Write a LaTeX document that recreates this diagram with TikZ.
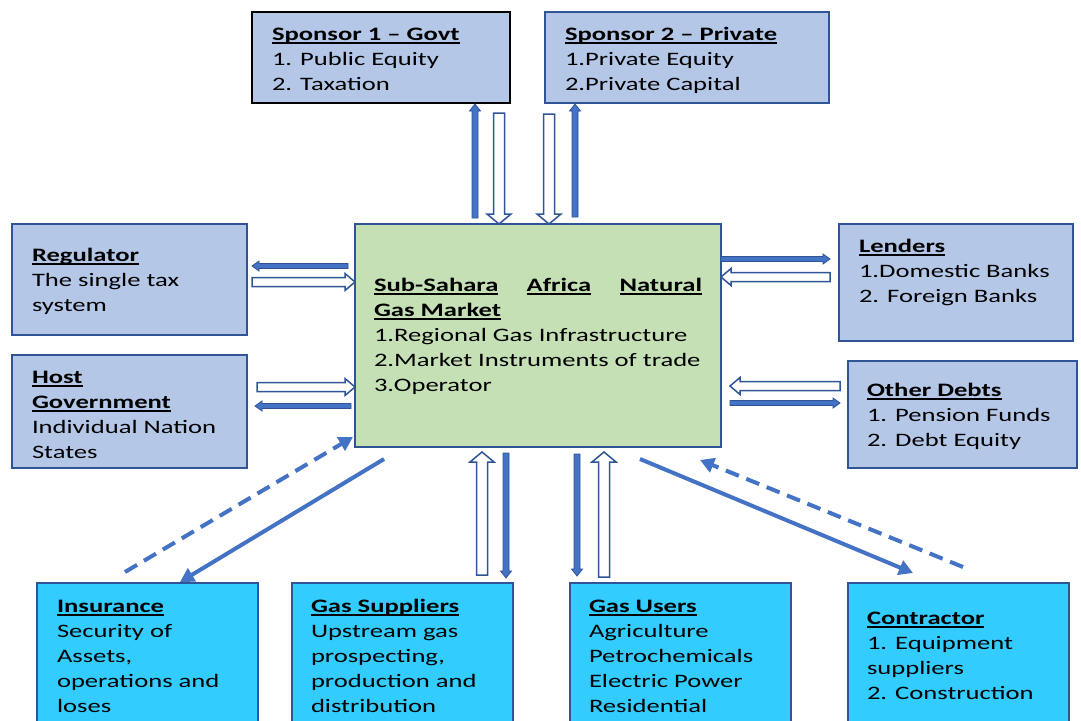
\documentclass[tikz,border=0pt]{standalone}
\usepackage{fontspec}
\setmainfont{Carlito}[FakeStretch=1.4]
\usetikzlibrary{calc,arrows.meta}

\definecolor{boxblue}{HTML}{B4C7E7}
\definecolor{edgeblue}{HTML}{2F5597}
\definecolor{centergreen}{HTML}{C5E0B4}
\definecolor{cyanbox}{HTML}{33CCFF}
\definecolor{arrowblue}{HTML}{4472C4}

% underlined word with a rule just under the baseline
\newcommand\ulw[1]{\leavevmode\setbox0\hbox{#1}\rlap{\rule[-3.6pt]{\wd0}{1.6pt}}\box0}
\newcommand\hd[1]{\ulw{\textbf{#1}}}
% block of text lines, anchored at the first baseline
\newcommand\lines[2]{\parbox[t]{#1}{\fontsize{19pt}{25pt}\selectfont\raggedright\parindent0pt #2}}

% block arrow: style, tail, tip, half shaft, half head, head length
\newcommand\blockarrow[6]{%
  \coordinate (ba-t) at #2;
  \coordinate (ba-h) at #3;
  \coordinate (ba-b) at ($(ba-h)!#6!(ba-t)$);
  \draw[#1] ($(ba-t)!#4!90:(ba-h)$) -- ($(ba-b)!#4!90:(ba-h)$)
    -- ($(ba-b)!#5!90:(ba-h)$) -- (ba-h) -- ($(ba-b)!#5!-90:(ba-h)$)
    -- ($(ba-b)!#4!-90:(ba-h)$) -- ($(ba-t)!#4!-90:(ba-h)$) -- cycle;}

\tikzset{
  panel/.style={draw=edgeblue, line width=1.8pt, fill=boxblue, inner sep=0pt, outer sep=0pt},
  hub/.style={draw=edgeblue, line width=1.8pt, fill=centergreen, inner sep=0pt, outer sep=0pt},
  party/.style={draw=edgeblue, line width=1.8pt, fill=cyanbox, inner sep=0pt, outer sep=0pt},
  txt/.style={anchor=base west, inner sep=0pt, outer sep=0pt},
  hollowarr/.style={draw=edgeblue, line width=1.5pt, fill=white, line join=miter},
  filledarr/.style={draw=edgeblue, line width=0.8pt, fill=arrowblue, line join=miter},
  flow/.style={draw=arrowblue, line width=4pt, -{Triangle[length=14pt,width=15pt]}},
  flowdash/.style={flow, dash pattern=on 14pt off 8pt}
}

\begin{document}
\begin{tikzpicture}[x=1pt, y=-1pt]
\useasboundingbox (0,0) rectangle (1081,720);

% ---- boxes ----
\node[panel, draw=black, minimum width=258pt, minimum height=91pt, anchor=north west] (sp1) at (252,12) {};
\node[panel, minimum width=284pt, minimum height=91pt, anchor=north west] (sp2) at (545,12) {};
\node[hub, minimum width=366pt, minimum height=223pt, anchor=north west] (center) at (355,224) {};
\node[panel, minimum width=235pt, minimum height=111pt, anchor=north west] (reg) at (12,224) {};
\node[panel, minimum width=235pt, minimum height=113pt, anchor=north west] (host) at (12,355) {};
\node[panel, minimum width=234pt, minimum height=117pt, anchor=north west] (lend) at (839,224) {};
\node[panel, minimum width=229pt, minimum height=107pt, anchor=north west] (debt) at (848,361) {};
\node[party, minimum width=221pt, minimum height=160pt, anchor=north west] (ins) at (37,583) {};
\node[party, minimum width=221pt, minimum height=160pt, anchor=north west] (gsup) at (292,583) {};
\node[party, minimum width=221pt, minimum height=160pt, anchor=north west] (gusr) at (570,583) {};
\node[party, minimum width=221pt, minimum height=160pt, anchor=north west] (cont) at (848,583) {};

% ---- texts ----
\node[txt] (sp1t) at (272,40) {\lines{300pt}{\hd{Sponsor 1 – Govt}\\1. Public Equity\\2. Taxation}};
\node[txt] (sp2t) at (565,40) {\lines{300pt}{\hd{Sponsor 2 – Private}\\1.Private Equity\\2.Private Capital}};
\node[txt] (regt) at (32,261) {\lines{300pt}{\hd{Regulator}\\The single tax\\system}};
\node[txt] (hostt) at (32,383) {\lines{300pt}{\hd{Host}\\\hd{Government}\\Individual Nation\\States}};
\node[txt] (lendt) at (859,252) {\lines{300pt}{\hd{Lenders}\\1.Domestic Banks\\2. Foreign Banks}};
\node[txt] (debtt) at (867,396) {\lines{300pt}{\hd{Other Debts}\\1. Pension Funds\\2. Debt Equity}};
\node[txt] (centert) at (374,291) {\lines{330pt}{%
  \leavevmode\hbox to 328pt{\hd{Sub-Sahara}\hfill\hd{Africa}\hfill\hd{Natural}}\\
  \hd{Gas Market}\\
  1.Regional Gas Infrastructure\\
  2.Market Instruments of trade\\
  3.Operator}};
\node[txt] (inst) at (57,612) {\lines{300pt}{\hd{Insurance}\\Security of\\Assets,\\operations and\\loses}};
\node[txt] (gsupt) at (311,612) {\lines{300pt}{\hd{Gas Suppliers}\\Upstream gas\\prospecting,\\production and\\distribution}};
\node[txt] (gusrt) at (589,612) {\lines{300pt}{\hd{Gas Users}\\Agriculture\\Petrochemicals\\Electric Power\\Residential}};
\node[txt] (contt) at (867,624) {\lines{300pt}{\hd{Contractor}\\1. Equipment\\suppliers\\2. Construction}};

% ---- sponsors <-> market ----
\blockarrow{filledarr}{([xshift=-63pt,yshift=6pt]center.north)}{([xshift=94pt,yshift=-1pt]sp1.south)}{3pt}{5.5pt}{7pt}
\blockarrow{hollowarr}{([xshift=118pt,yshift=-10pt]sp1.south)}{([xshift=-39pt]center.north)}{5.5pt}{12pt}{10pt}
\blockarrow{hollowarr}{([xshift=-138pt,yshift=-11pt]sp2.south)}{([xshift=11pt]center.north)}{5.5pt}{12pt}{10pt}
\blockarrow{filledarr}{([xshift=37pt,yshift=7pt]center.north)}{([xshift=-112pt,yshift=-1pt]sp2.south)}{3pt}{5.5pt}{7pt}

% ---- regulator and host government ----
\blockarrow{filledarr}{([xshift=-7pt,yshift=69.5pt]center.west)}{([xshift=5pt,yshift=13.5pt]reg.east)}{2.5pt}{5pt}{7pt}
\blockarrow{hollowarr}{([xshift=5pt,yshift=-2.5pt]reg.east)}{([yshift=53.5pt]center.west)}{4.5pt}{8.5pt}{10pt}
\blockarrow{hollowarr}{([xshift=10pt,yshift=24.5pt]host.east)}{([yshift=-51.5pt]center.west)}{4.5pt}{8.5pt}{10pt}
\blockarrow{filledarr}{([xshift=-4pt,yshift=-70.5pt]center.west)}{([xshift=8pt,yshift=5.5pt]host.east)}{2.5pt}{5pt}{7pt}

% ---- lenders and other debts ----
\blockarrow{filledarr}{([yshift=76.5pt]center.east)}{([xshift=-9pt,yshift=23.5pt]lend.west)}{2.5pt}{5pt}{7pt}
\blockarrow{hollowarr}{([xshift=-9pt,yshift=5.5pt]lend.west)}{([yshift=58.5pt]center.east)}{4.5pt}{8.5pt}{10pt}
\blockarrow{hollowarr}{([xshift=-8pt,yshift=28.5pt]debt.west)}{([xshift=9pt,yshift=-50.5pt]center.east)}{4.5pt}{8.5pt}{10pt}
\blockarrow{filledarr}{([xshift=9pt,yshift=-67.5pt]center.east)}{([xshift=-8pt,yshift=11.5pt]debt.west)}{2.5pt}{5pt}{7pt}

% ---- gas suppliers and gas users ----
\blockarrow{hollowarr}{([xshift=79.5pt,yshift=8pt]gsup.north)}{([xshift=-56pt,yshift=-5pt]center.south)}{5.5pt}{12pt}{10pt}
\blockarrow{filledarr}{([xshift=-32pt,yshift=-6pt]center.south)}{([xshift=103.5pt,yshift=5pt]gsup.north)}{3pt}{5.5pt}{7pt}
\blockarrow{filledarr}{([xshift=39pt,yshift=-7pt]center.south)}{([xshift=-103.5pt,yshift=7pt]gusr.north)}{3pt}{5.5pt}{7pt}
\blockarrow{hollowarr}{([xshift=-76.5pt,yshift=6pt]gusr.north)}{([xshift=66pt,yshift=-5pt]center.south)}{5.5pt}{12pt}{10pt}

% ---- insurance and contractor ----
\draw[flowdash] ([xshift=-22.5pt,yshift=11pt]ins.north) -- ([xshift=-2pt,yshift=10pt]center.south west);
\draw[flow] ([xshift=29pt,yshift=-12pt]center.south west) -- ([xshift=32.5pt,yshift=1pt]ins.north);
\draw[flow] ([xshift=102pt,yshift=-12pt]center.south) -- ([xshift=-45.5pt,yshift=10pt]cont.north);
\draw[flowdash] ([xshift=4.5pt,yshift=16pt]cont.north) -- ([xshift=162pt,yshift=-13pt]center.south);
\end{tikzpicture}
\end{document}
